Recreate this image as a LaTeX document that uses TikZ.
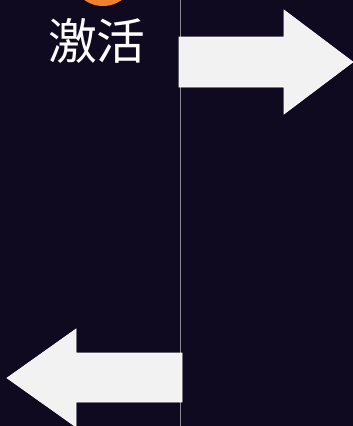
\documentclass[tikz,border=0pt]{standalone}
\usepackage{fontspec}
\newfontfamily\cjk{Noto Sans CJK SC}
\begin{document}
\begin{tikzpicture}[x=1bp,y=-1bp,
  arrowshape/.style={fill=arrowfill,draw=white,line width=0.6bp},
  divider/.style={draw=divgray,line width=1bp}]
\definecolor{bgnavy}{HTML}{100A20}
\definecolor{arrowfill}{HTML}{F2F2F2}
\definecolor{divgray}{HTML}{8A8A8A}
\definecolor{dotorange}{HTML}{EE8030}
\fill[bgnavy] (0,0) rectangle (353,426);
\useasboundingbox (0,0) rectangle (353,426);
\begin{scope}
\clip (0,0) rectangle (353,426);
\fill[dotorange] (103,-26) circle (32);
\coordinate (ltop) at (180,0);
\coordinate (lbot) at (180,426);
\draw[divider] (ltop) -- (lbot);
\node[text=white,font=\cjk\fontsize{49}{52}\selectfont,inner sep=0] (lbl) at (97,41) {激活};
\draw[arrowshape] (179,37) -- (284,37) -- (284,10) -- (353,62) -- (284,114) -- (284,87) -- (179,87) -- cycle;
\draw[arrowshape] (182,353) -- (76,353) -- (76,329) -- (7,378) -- (76,427) -- (76,402) -- (182,402) -- cycle;
\end{scope}
\end{tikzpicture}
\end{document}
